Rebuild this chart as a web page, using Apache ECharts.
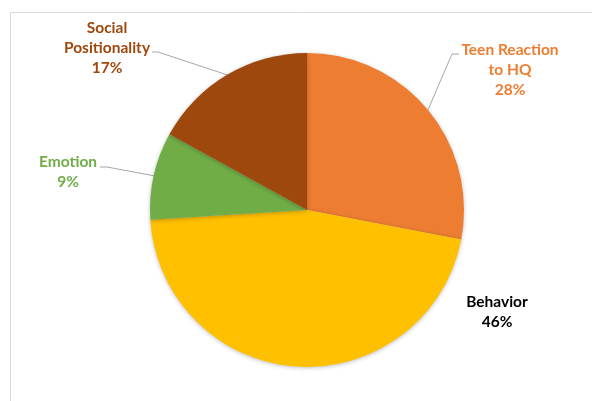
<!DOCTYPE html>
<html>
<head>
<meta charset="utf-8">
<script src="https://cdn.jsdelivr.net/npm/echarts@6/dist/echarts.min.js"></script>
<style>
  html, body { margin: 0; padding: 0; background: #fff; }
  #chart { width: 592px; height: 401px; }
</style>
</head>
<body>
<div id="chart"></div>
<script>
// Share of coded themes
const categories = ['Teen Reaction\nto HQ', 'Behavior', 'Emotion', 'Social\nPositionality'];
const shares = [28, 46, 9, 17];
const sliceColors = ['#ED7D31', '#FFC000', '#70AD47', '#9E480E'];
const labelColors = ['#ED7D31', '#000000', '#70AD47', '#9E480E'];

// label anchor (centre of text block) and elbow of its leader line
const labelSpots = [
  { x: 510, y: 70, elbow: [452, 54], end: [459, 54] },
  { x: 497, y: 312, elbow: null, end: null },
  { x: 68, y: 172, elbow: [107, 167], end: [100, 167] },
  { x: 107, y: 48, elbow: [158, 52], end: [152, 52] }
];

const chart = echarts.init(document.getElementById('chart'), null, { renderer: 'canvas' });

chart.setOption({
  backgroundColor: '#ffffff',
  animation: false,
  graphic: [{
    type: 'rect',
    shape: { x: 10.5, y: 12.5, width: 600, height: 400 },
    style: { fill: 'none', stroke: '#d9d9d9', lineWidth: 1 },
    silent: true
  }],
  series: [{
    type: 'pie',
    center: [307, 210],
    radius: [0, 157],
    startAngle: 90,
    clockwise: true,
    data: categories.map((name, i) => ({
      name: name,
      value: shares[i],
      itemStyle: { color: sliceColors[i] },
      label: { color: labelColors[i] },
      labelLine: { show: i !== 1 }
    })),
    itemStyle: {
      borderWidth: 0,
      shadowBlur: 4,
      shadowColor: 'rgba(0,0,0,0.25)',
      shadowOffsetY: 1
    },
    label: {
      show: true,
      position: 'outside',
      formatter: p => p.name + '\n' + p.value + '%',
      fontFamily: 'Lato, "Open Sans", sans-serif',
      fontWeight: 'bold',
      fontSize: 15.5,
      lineHeight: 20,
      align: 'center'
    },
    labelLine: {
      show: true,
      lineStyle: { color: '#a6a6a6', width: 1 },
      length: 20,
      length2: 8
    },
    labelLayout: function (params) {
      const s = labelSpots[params.dataIndex];
      const out = { x: s.x, y: s.y, align: 'center', verticalAlign: 'middle' };
      if (s.elbow && params.labelLinePoints) {
        out.labelLinePoints = [params.labelLinePoints[0], s.elbow, s.end];
      }
      return out;
    }
  }]
});
</script>
</body>
</html>
